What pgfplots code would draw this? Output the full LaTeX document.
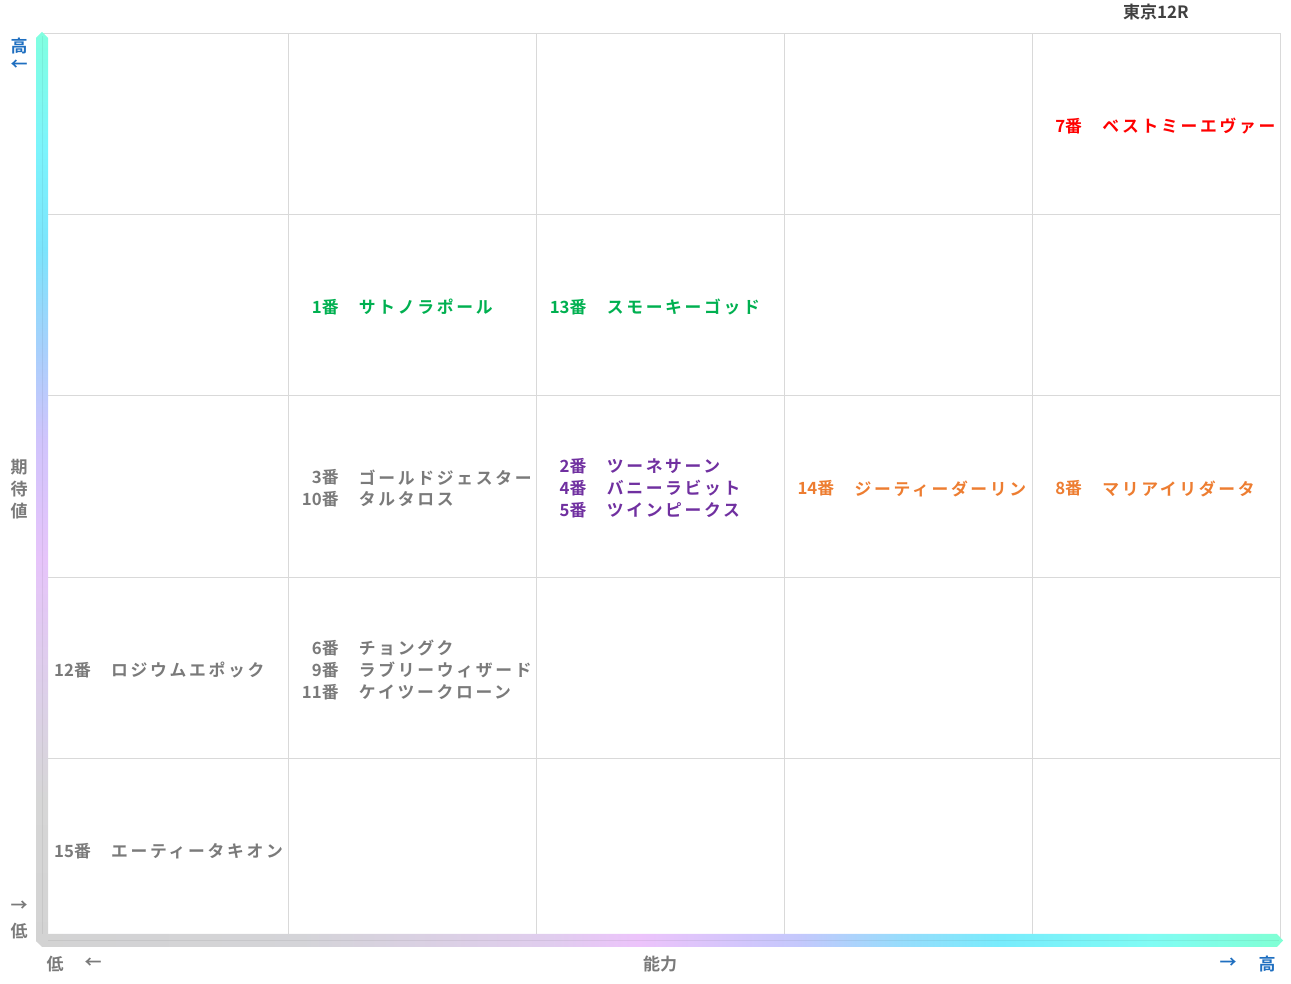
\documentclass[border=0pt]{standalone}
\usepackage{pgfplots}
\usepackage{pgfplotstable}
\pgfplotsset{compat=1.18}
\usepackage{fontspec}
\setmainfont{Noto Sans CJK JP}
\newfontfamily\jp{Noto Sans CJK JP}[BoldFont={* Bold},LetterSpace=16]
\newfontfamily\jpn{Noto Sans CJK JP}[BoldFont={* Bold}]

\definecolor{txtgray}{HTML}{7A7A7A}
\definecolor{txtpurple}{HTML}{7030A0}
\definecolor{txtorange}{HTML}{ED7D31}
\definecolor{txtgreen}{HTML}{00B050}
\definecolor{txtred}{HTML}{FF0000}
\definecolor{txtblue}{HTML}{1F6FC0}
\definecolor{gridc}{HTML}{D9D9D9}

\definecolor{h0}{HTML}{D3D3D3}
\definecolor{h1}{HTML}{D4D4D8}
\definecolor{h2}{HTML}{E0CDEE}
\definecolor{h3}{HTML}{ECC3FB}
\definecolor{h4}{HTML}{C4C8FC}
\definecolor{h5}{HTML}{98DCFC}
\definecolor{h6}{HTML}{78ECFC}
\definecolor{h7}{HTML}{80FCF4}
\definecolor{h8}{HTML}{80FFD4}
\pgfdeclarehorizontalshading{hbar}{100bp}{color(0bp)=(h0); color(25bp)=(h0); color(35.6bp)=(h1); color(45.6bp)=(h2); color(49.2bp)=(h3); color(55.6bp)=(h4); color(59.6bp)=(h5); color(63.7bp)=(h6); color(69.7bp)=(h7); color(75bp)=(h8); color(100bp)=(h8)}

\definecolor{v0}{HTML}{D3D3D3}
\definecolor{v1}{HTML}{D6D6D6}
\definecolor{v2}{HTML}{DCD0E8}
\definecolor{v3}{HTML}{E6C4FA}
\definecolor{v4}{HTML}{D0C4FC}
\definecolor{v5}{HTML}{A8D0FC}
\definecolor{v6}{HTML}{7CE4FC}
\definecolor{v7}{HTML}{7CF4FC}
\definecolor{v8}{HTML}{80FFE0}
\pgfdeclareverticalshading{vbar}{100bp}{color(0bp)=(v0); color(25bp)=(v0); color(33bp)=(v1); color(38.5bp)=(v2); color(46.2bp)=(v3); color(52.7bp)=(v4); color(57.6bp)=(v5); color(63.1bp)=(v6); color(68.6bp)=(v7); color(75bp)=(v8); color(100bp)=(v8)}

% columns: col (cell index), y (axis units), num, name
\pgfplotstableread{
col y num name
4 4.5 7番 ベストミーエヴァー
}\redtab
\pgfplotstableread{
col y num name
1 3.5 1番 サトノラポール
2 3.5 13番 スモーキーゴッド
}\greentab
\pgfplotstableread{
col y num name
2 2.6213 2番 ツーネサーン
2 2.5 4番 バニーラビット
2 2.3787 5番 ツインピークス
}\purpletab
\pgfplotstableread{
col y num name
3 2.5 14番 ジーティーダーリン
4 2.5 8番 マリアイリダータ
}\orangetab
\pgfplotstableread{
col y num name
1 2.5606 3番 ゴールドジェスター
1 2.4394 10番 タルタロス
0 1.5 12番 ロジウムエポック
1 1.6213 6番 チョングク
1 1.5 9番 ラブリーウィザード
1 1.3787 11番 ケイツークローン
0 0.5 15番 エーティータキオン
}\graytab

\pgfplotsset{
  numplot/.style={draw=none, mark=none, nodes near coords, point meta=explicit symbolic,
    every node near coord/.append style={anchor=east, inner sep=0pt, yshift=-2pt, font=\jpn\fontsize{16.8}{18}\selectfont\bfseries, text=#1}},
  nameplot/.style={draw=none, mark=none, nodes near coords, point meta=explicit symbolic,
    every node near coord/.append style={anchor=west, inner sep=0pt, yshift=-2pt, font=\jp\fontsize{16.8}{18}\selectfont\bfseries, text=#1}},
}

\begin{document}
\begin{tikzpicture}
\useasboundingbox (-41pt,-43pt) rectangle (1250pt,940pt);
\begin{axis}[
  at={(0pt,0pt)}, anchor=south west,
  scale only axis, width=1239pt, height=907pt,
  xmin=0, xmax=5, ymin=0, ymax=5,
  xtick={1,2,3,4}, ytick={1,2,3,4},
  xticklabels={}, yticklabels={},
  tick style={draw=none},
  grid=major, major grid style={gridc, line width=0.8pt},
  axis line style={gridc, line width=0.8pt},
  clip=false,
]
\addplot[numplot=txtred] table[x expr=\thisrow{col}+0.2018, y=y, meta=num]{\redtab};
\addplot[nameplot=txtred] table[x expr=\thisrow{col}+0.2825, y=y, meta=name]{\redtab};
\addplot[numplot=txtgreen] table[x expr=\thisrow{col}+0.2018, y=y, meta=num]{\greentab};
\addplot[nameplot=txtgreen] table[x expr=\thisrow{col}+0.2825, y=y, meta=name]{\greentab};
\addplot[numplot=txtpurple] table[x expr=\thisrow{col}+0.2018, y=y, meta=num]{\purpletab};
\addplot[nameplot=txtpurple] table[x expr=\thisrow{col}+0.2825, y=y, meta=name]{\purpletab};
\addplot[numplot=txtorange] table[x expr=\thisrow{col}+0.2018, y=y, meta=num]{\orangetab};
\addplot[nameplot=txtorange] table[x expr=\thisrow{col}+0.2825, y=y, meta=name]{\orangetab};
\addplot[numplot=txtgray] table[x expr=\thisrow{col}+0.2018, y=y, meta=num]{\graytab};
\addplot[nameplot=txtgray] table[x expr=\thisrow{col}+0.2825, y=y, meta=name]{\graytab};
\end{axis}
% gradient axis bars (pixel -> pt: x = px-41, y = 940-py)
\shade[shading=vbar] (-5pt,-1pt) -- (-5pt,902pt) -- (1pt,908pt) -- (7pt,902pt) -- (7pt,6pt) -- (1pt,-6pt) -- (-5pt,-1pt) -- cycle;
\shade[shading=hbar] (-5pt,-1pt) -- (1pt,-7pt) -- (1236pt,-7pt) -- (1242pt,-0.5pt) -- (1236pt,6pt) -- (7pt,6pt) -- cycle;
\draw[black, opacity=0.06, line width=0.8pt] (1pt,6pt) -- (1pt,904pt);
\draw[black, opacity=0.06, line width=0.8pt] (7pt,-0.5pt) -- (1238pt,-0.5pt);
% outer labels
\begin{scope}[every node/.style={inner sep=0pt, font=\jpn\fontsize{17}{18}\selectfont\bfseries}]
\node[text=black!75] at (1115pt,928pt) {東京12R};
\node[text=txtblue] at (-22pt,894pt) {高};
\node[text=txtblue] at (-22pt,875pt) {←};
\node[text=txtgray] at (-22pt,473pt) {期};
\node[text=txtgray] at (-22pt,451pt) {待};
\node[text=txtgray] at (-22pt,429pt) {値};
\node[text=txtgray] at (-22pt,34pt) {→};
\node[text=txtgray] at (-22pt,9pt) {低};
\node[text=txtgray] at (14pt,-24pt) {低};
\node[text=txtgray] at (52pt,-23pt) {←};
\node[text=txtgray] at (619pt,-24pt) {能力};
\node[text=txtblue] at (1187pt,-23pt) {→};
\node[text=txtblue] at (1226pt,-24pt) {高};
\end{scope}
\end{tikzpicture}
\end{document}
